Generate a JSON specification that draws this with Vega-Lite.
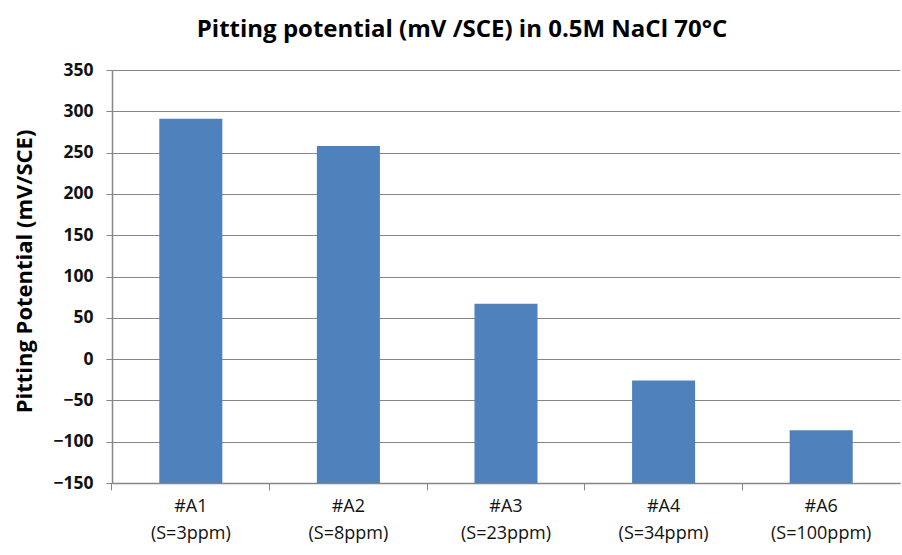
{
  "$schema": "https://vega.github.io/schema/vega-lite/v6.json",
  "width": 788,
  "height": 413,
  "autosize": "none",
  "padding": {"left": 112, "top": 70, "right": 2, "bottom": 72},
  "background": "white",
  "title": {
    "text": "Pitting potential (mV /SCE) in 0.5M NaCl 70°C",
    "font": "Open Sans",
    "fontSize": 24,
    "fontWeight": "bold",
    "color": "#000000",
    "anchor": "middle",
    "frame": "group",
    "dx": -44,
    "offset": 19
  },
  "data": {
    "values": [
      {"sample": "#A1 (S=3ppm)", "potential": 291},
      {"sample": "#A2 (S=8ppm)", "potential": 258},
      {"sample": "#A3 (S=23ppm)", "potential": 67},
      {"sample": "#A4 (S=34ppm)", "potential": -26},
      {"sample": "#A6 (S=100ppm)", "potential": -86}
    ]
  },
  "mark": {"type": "bar", "color": "#4F81BD"},
  "encoding": {
    "x": {
      "field": "sample",
      "type": "nominal",
      "sort": null,
      "scale": {"paddingInner": 0.6, "paddingOuter": 0.3},
      "axis": {
        "title": null,
        "labelAngle": 0,
        "labelExpr": "split(datum.label, ' ')",
        "labelFont": "Open Sans",
        "labelFontSize": 18,
        "labelColor": "#111111",
        "labelLineHeight": 27,
        "labelPadding": 7,
        "bandPosition": -0.75,
        "tickSize": 7,
        "tickColor": "#868686",
        "domainColor": "#868686",
        "domainWidth": 1.5,
        "grid": false
      }
    },
    "y": {
      "field": "potential",
      "type": "quantitative",
      "scale": {"domain": [-150, 350], "nice": false, "zero": false},
      "axis": {
        "title": "Pitting Potential (mV/SCE)",
        "titleFont": "Open Sans",
        "titleFontSize": 22,
        "titleFontWeight": "bold",
        "titleColor": "#000000",
        "titleX": -88,
        "titleY": 201,
        "titleBaseline": "middle",
        "values": [-150, -100, -50, 0, 50, 100, 150, 200, 250, 300, 350],
        "labelFont": "Open Sans",
        "labelFontSize": 17.5,
        "labelFontWeight": "bold",
        "labelColor": "#111111",
        "labelPadding": 13,
        "tickSize": 6,
        "tickColor": "#868686",
        "domainColor": "#868686",
        "domainWidth": 1.5,
        "grid": true,
        "gridColor": "#868686",
        "gridWidth": 1
      }
    },
    "y2": {"datum": -150}
  },
  "config": {"view": {"stroke": null}}
}
